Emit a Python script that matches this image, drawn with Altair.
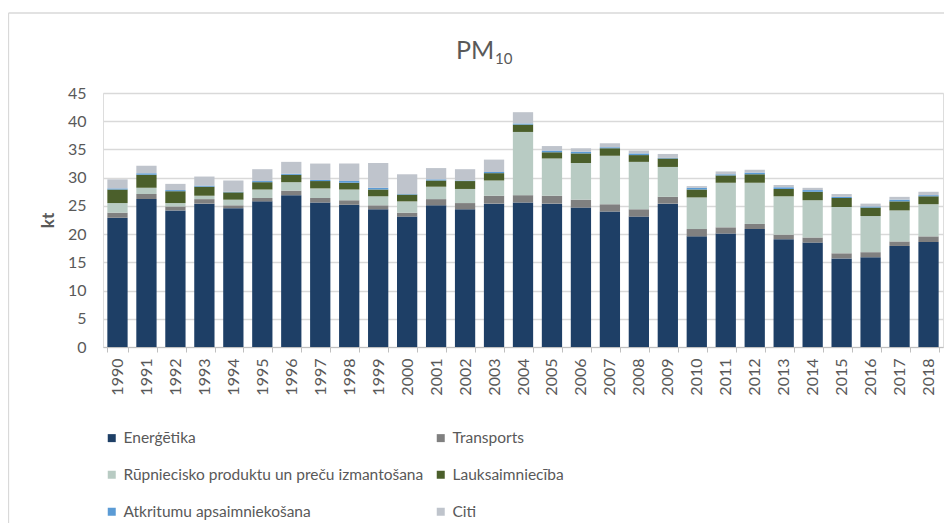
import altair as alt
import pandas as pd

years = [str(y) for y in range(1990, 2019)]

energetika = [22.9, 26.2, 24.2, 25.4, 24.6, 25.8, 26.9, 25.6, 25.2, 24.4,
              23.1, 25.1, 24.4, 25.4, 25.6, 25.4, 24.7, 24.0, 23.1, 25.4,
              19.6, 20.1, 20.9, 19.1, 18.5, 15.7, 15.9, 17.9, 18.6]
transports = [0.9, 0.9, 0.7, 0.8, 0.5, 0.6, 0.8, 0.8, 0.8, 0.7,
              0.7, 1.1, 1.1, 1.4, 1.3, 1.4, 1.4, 1.3, 1.3, 1.2,
              1.3, 1.1, 0.9, 0.8, 0.9, 0.9, 0.9, 0.8, 1.0]
rupnieciba = [1.7, 1.1, 0.6, 0.6, 1.0, 1.5, 1.5, 1.7, 1.9, 1.6,
              2.0, 2.2, 2.5, 2.7, 11.2, 6.6, 6.5, 8.6, 8.4, 5.3,
              5.6, 7.9, 7.3, 6.8, 6.6, 8.2, 6.4, 5.5, 5.7]
lauksaimnieciba = [2.4, 2.3, 2.1, 1.6, 1.3, 1.3, 1.3, 1.3, 1.2, 1.2,
                   1.2, 1.1, 1.4, 1.3, 1.3, 1.1, 1.7, 1.3, 1.2, 1.5,
                   1.4, 1.3, 1.5, 1.3, 1.5, 1.6, 1.5, 1.6, 1.4]
atkritumi = [0.2, 0.3, 0.2, 0.2, 0.1, 0.2, 0.2, 0.2, 0.3, 0.3,
             0.1, 0.2, 0.1, 0.2, 0.2, 0.3, 0.3, 0.2, 0.3, 0.1,
             0.3, 0.2, 0.3, 0.3, 0.3, 0.2, 0.2, 0.3, 0.2]
citi = [1.6, 1.3, 1.1, 1.6, 2.0, 2.1, 2.1, 2.9, 3.1, 4.4,
        3.5, 2.0, 2.0, 2.2, 2.0, 0.8, 0.6, 0.7, 0.5, 0.7,
        0.3, 0.5, 0.5, 0.4, 0.4, 0.5, 0.5, 0.5, 0.6]

sectors = ["Enerģētika", "Transports", "Rūpniecisko produktu un preču izmantošana",
           "Lauksaimniecība", "Atkritumu apsaimniekošana", "Citi"]
colors = ["#1E3F66", "#808080", "#B8CBC3", "#4B5F2B", "#5B9BD5", "#BFC4CC"]
series = [energetika, transports, rupnieciba, lauksaimnieciba, atkritumi, citi]

# legend is laid out column by column: list the left column first, then the right one
legend_order = [0, 2, 4, 1, 3, 5]
legend_domain = [sectors[i] for i in legend_order]
legend_range = [colors[i] for i in legend_order]

rows = []
for k, (name, vals) in enumerate(zip(sectors, series)):
    for y, v in zip(years, vals):
        rows.append({"year": y, "sector": name, "value": v, "ord": k})
df = pd.DataFrame(rows)

FONT = "Lato"
GRAY = "#595959"

bars = alt.Chart(df).mark_bar().encode(
    x=alt.X("year:N", sort=years,
            scale=alt.Scale(paddingInner=0.3, paddingOuter=0.15),
            axis=alt.Axis(title=None, labelAngle=-90, labelFontSize=16, labelColor=GRAY,
                          labelFont=FONT, tickBand="extent", tickSize=5, tickColor="#BFBFBF",
                          domainColor="#BFBFBF", labelPadding=6, grid=False)),
    y=alt.Y("value:Q", stack="zero",
            scale=alt.Scale(domain=[0, 45], nice=False),
            axis=alt.Axis(values=list(range(0, 50, 5)), title="kt", titleFont=FONT,
                          titleFontSize=17, titleColor=GRAY, titleFontWeight="bold",
                          titleAngle=-90, titleX=-55, titleY=127, titleBaseline="middle",
                          titleAlign="center",
                          labelFontSize=16, labelColor=GRAY, labelFont=FONT, labelPadding=17,
                          tickSize=0, domain=False, gridColor="#D9D9D9", gridWidth=1.3)),
    color=alt.Color("sector:N", scale=alt.Scale(domain=legend_domain, range=legend_range),
                    legend=alt.Legend(title=None, orient="none", legendX=1, legendY=337,
                                      columns=2, columnPadding=9, rowPadding=20,
                                      symbolType="square", symbolSize=64, symbolStrokeWidth=0,
                                      labelFontSize=15.5, labelFont=FONT, labelColor=GRAY,
                                      labelOffset=4, labelLimit=400)),
    order=alt.Order("ord:Q", sort="ascending"),
)

one = pd.DataFrame({"a": [0]})
border_top = alt.Chart(one).mark_rule(color="#D9D9D9", strokeWidth=1.3).encode(
    x=alt.value(-94.5), x2=alt.value(900), y=alt.value(-80))
border_left = alt.Chart(one).mark_rule(color="#D9D9D9", strokeWidth=1.3).encode(
    x=alt.value(-94.5), y=alt.value(-80), y2=alt.value(430))
title_main = alt.Chart(one).mark_text(font=FONT, fontSize=25, color=GRAY, align="left",
                                      baseline="alphabetic").encode(
    x=alt.value(353), y=alt.value(-34), text=alt.value("PM"))
title_sub = alt.Chart(one).mark_text(font=FONT, fontSize=15, color=GRAY, align="left",
                                     baseline="alphabetic").encode(
    x=alt.value(392), y=alt.value(-29), text=alt.value("10"))

chart = alt.layer(bars, border_top, border_left, title_main, title_sub).properties(
    width=840, height=254,
    autosize=alt.AutoSizeParams(type="none"),
    padding={"left": 95, "top": 85, "right": 1, "bottom": 176},
).configure_view(stroke=None).configure(font=FONT)

chart.save("out.html", embed_options={"renderer": "svg", "actions": False})
